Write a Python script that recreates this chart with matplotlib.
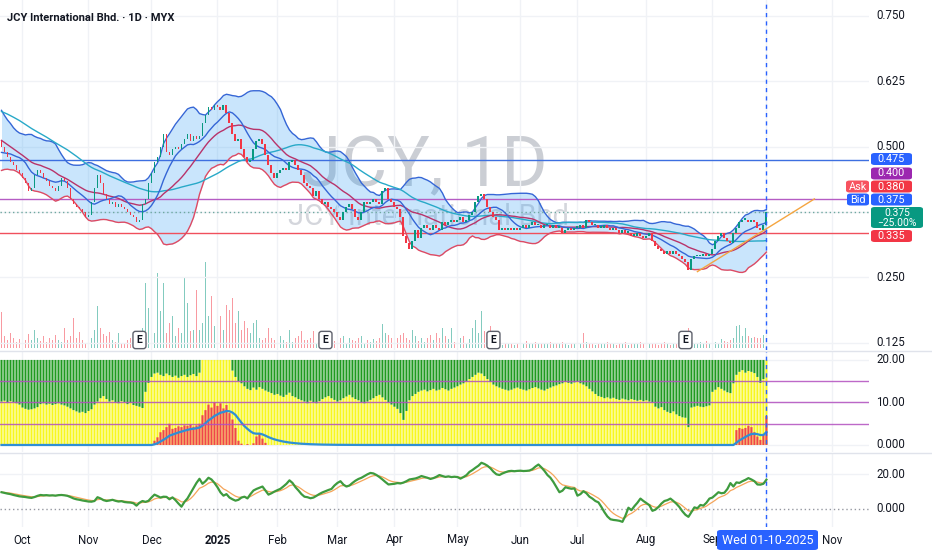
import matplotlib
matplotlib.use("Agg")
import matplotlib.pyplot as plt
import numpy as np
import pandas as pd
from matplotlib.patches import FancyBboxPatch

W, H = 932, 550

# ---- data (one value per daily bar) ----
warmup_close = [
    0.600, 0.610, 0.605, 0.615, 0.620, 0.610, 0.615, 0.625, 0.620, 0.610,
    0.605, 0.615, 0.620, 0.610, 0.600, 0.605, 0.610, 0.600, 0.595, 0.600,
    0.605, 0.600, 0.595, 0.600, 0.590, 0.595, 0.600, 0.590, 0.585, 0.590,
    0.580, 0.570, 0.560, 0.550, 0.550, 0.540, 0.530, 0.520, 0.520, 0.510,
    0.500, 0.500, 0.490, 0.480, 0.490, 0.480, 0.470, 0.480, 0.490, 0.510,
]

close = [
    0.500, 0.490, 0.480, 0.470, 0.465, 0.455, 0.450, 0.440, 0.430, 0.415,
    0.420, 0.445, 0.455, 0.450, 0.440,
    0.435, 0.425, 0.420, 0.415, 0.425, 0.440,
    0.435, 0.420, 0.400, 0.390, 0.385, 0.380, 0.375, 0.365, 0.370,
    0.395, 0.420, 0.445, 0.430, 0.410,
    0.400, 0.390, 0.395, 0.385, 0.390, 0.385, 0.380, 0.375, 0.370, 0.365,
    0.355, 0.360, 0.390, 0.400, 0.430,
    0.450, 0.470, 0.480, 0.500, 0.525,
    0.490, 0.485, 0.495, 0.500, 0.495, 0.505,
    0.515, 0.525, 0.510, 0.520, 0.515, 0.520, 0.545,
    0.560, 0.575, 0.570, 0.580, 0.575, 0.570, 0.580, 0.565,
    0.545, 0.525, 0.510, 0.515,
    0.495, 0.480, 0.470, 0.475, 0.495,
    0.510, 0.515, 0.505,
    0.485, 0.465, 0.450, 0.440, 0.450,
    0.455, 0.460, 0.455, 0.470, 0.475, 0.465,
    0.455, 0.445, 0.430, 0.425, 0.420, 0.405,
    0.415, 0.400, 0.390, 0.395, 0.385, 0.380, 0.375,
    0.365, 0.360, 0.375,
    0.385, 0.390, 0.380, 0.365, 0.360, 0.375,
    0.395, 0.390, 0.395, 0.400, 0.395, 0.390,
    0.415, 0.420, 0.400,
    0.395, 0.385, 0.380, 0.365,
    0.330, 0.315, 0.305, 0.320,
    0.340, 0.325, 0.345, 0.350,
    0.345, 0.340, 0.350, 0.345, 0.340, 0.355,
    0.350, 0.355, 0.360, 0.355, 0.360, 0.365, 0.355, 0.360, 0.370,
    0.375, 0.395, 0.405, 0.410, 0.400,
    0.385, 0.375, 0.365, 0.360,
    0.340, 0.345, 0.340, 0.345, 0.340, 0.345, 0.340, 0.345,
    0.350, 0.345, 0.350, 0.355, 0.350, 0.350, 0.345, 0.350, 0.350, 0.345, 0.350, 0.345, 0.345,
    0.335, 0.340, 0.345, 0.340, 0.345, 0.345, 0.350, 0.345,
    0.360, 0.355,
    0.350, 0.350, 0.345, 0.345, 0.350, 0.345, 0.340, 0.345, 0.340, 0.335, 0.340, 0.335,
    0.335, 0.330, 0.330, 0.335, 0.330, 0.325, 0.330, 0.335,
    0.320, 0.310, 0.305, 0.300,
    0.295, 0.300, 0.295, 0.300, 0.295, 0.290, 0.285, 0.280, 0.265,
    0.285, 0.290, 0.290, 0.290, 0.295, 0.290, 0.295, 0.305,
    0.320, 0.330, 0.335, 0.325, 0.320, 0.315, 0.335,
    0.345, 0.355, 0.360, 0.360, 0.355, 0.360, 0.355, 0.345,
    0.340, 0.350, 0.375,
]

volume = [
    36, 12, 8, 15, 10, 6, 9, 12, 8, 14,
    8, 18, 10, 7, 12,
    6, 10, 8, 13, 8, 6,
    20, 8, 12, 30, 10, 16, 8, 5, 6,
    10, 18, 42, 20, 14,
    12, 16, 8, 6, 15, 5, 4, 8, 10, 6,
    8, 15, 20, 65, 40, 37, 15, 75, 37, 65,
    15, 25, 32, 12, 20, 15, 70, 45, 17, 18,
    58, 18, 25, 86, 32, 52, 22, 25, 32, 18,
    43, 38, 50, 25, 37, 18, 27, 20, 15, 25,
    28, 10, 8, 10, 20, 10, 8, 12, 12, 8,
    6, 18, 6, 10, 12, 17, 8,
    8, 10, 17, 5, 9, 12, 7, 6, 8, 7,
    10, 10, 12, 5, 10, 8, 7, 10, 12, 5,
    8, 6, 9, 7, 10, 24, 15, 13, 10, 7,
    10, 13, 15, 10, 8, 18, 12, 7, 10, 6,
    10, 13, 8, 15, 10, 20, 12, 9, 20, 6,
    17, 10, 12, 5, 9, 20, 28, 15, 37, 17,
    12, 22, 8, 4, 5, 3, 4, 5, 4, 3,
    5, 6, 4, 7, 5, 4, 6, 5, 4, 5,
    5, 6, 4, 5, 4, 6, 5, 3, 5, 4,
    5, 4, 15, 6, 4, 5, 3, 4, 5, 4,
    6, 4, 5, 3, 5, 4, 6, 3, 4, 5,
    4, 6, 5, 3, 4, 5, 4, 3, 5, 6,
    4, 3, 5, 4, 6, 4, 5, 20, 6, 4,
    5, 6, 4, 7, 5, 8, 6, 5, 9, 7,
    6, 8, 10, 22, 23, 12, 20, 12, 10, 11,
    10, 10, 13, 23,
]

# second pane: yellow share (rest up to 20 is green), red bars
pane_yellow = [
    10.2, 10.4, 10.0, 10.3, 10.1, 9.8, 9.5,
    8.8, 8.5, 8.3, 8.4, 8.6, 8.9,
    9.6, 9.8, 9.5, 9.7, 9.4, 9.6, 9.8, 9.5, 9.3, 9.0,
    8.6, 8.2, 7.9, 7.6, 7.8, 7.5, 8.0, 8.4,
    9.5, 10.2, 11.0, 11.5, 10.8, 10.2, 10.5, 10.0, 9.8, 10.3, 10.1, 9.6, 9.9, 9.4, 9.2, 9.0,
    8.7,
    12.5, 14.6,
    16.0, 16.8, 17.0, 16.5, 16.2, 16.8, 16.4, 16.0,
    16.3, 15.8, 16.2, 16.5, 16.0, 16.4, 16.7, 16.2, 17.0,
    20.0, 20.0, 20.0, 20.0, 20.0, 20.0, 20.0, 20.0, 20.0, 20.0,
    17.5, 16.0, 15.0,
    14.5, 13.8, 13.2, 12.9, 13.5, 13.0, 13.6, 13.2, 12.8,
    12.5, 12.2, 11.8, 12.0, 11.6, 11.3, 11.8, 12.3, 11.5, 11.2, 10.8,
    10.5, 10.2, 9.8, 10.4, 10.0, 9.8, 10.3,
    10.8, 11.2, 11.5, 11.0, 10.6, 10.2, 10.5, 11.0, 11.4, 11.8, 11.2, 10.8, 10.5,
    10.0, 9.8, 10.2, 10.6, 11.0, 11.5, 11.8, 11.2, 10.6, 10.0, 9.5, 9.0, 8.5,
    7.5, 5.9, 8.0,
    10.5, 11.5, 12.0, 12.5, 12.8, 13.0, 12.6, 12.9, 13.2, 12.8,
    13.0, 13.4, 13.1, 12.8, 13.2, 13.5, 13.8, 14.2, 14.5, 15.0,
    15.5, 16.0, 16.5, 17.0, 16.8, 16.2, 15.5, 14.8, 14.2, 13.8,
    13.5, 13.2, 13.0, 12.8, 13.0, 13.3, 13.5, 13.2, 13.0, 12.8,
    13.1, 13.4, 13.6, 13.3, 13.0, 12.8, 13.2, 13.5, 13.8, 14.0,
    14.3, 14.5, 14.8, 14.6, 14.4, 14.7, 14.9, 14.5, 14.2, 13.8, 13.2, 12.6, 12.0, 11.5,
    11.3, 11.0, 11.2, 10.9, 11.1, 10.8, 10.6, 10.9, 10.7, 10.5,
    10.8, 10.6, 10.4, 10.6, 10.3, 10.5, 10.2, 10.0,
    9.0, 8.6, 8.9, 8.2, 7.8, 7.5, 7.9, 7.2, 6.8, 6.5, 6.4,
    4.2,
    8.8, 9.0, 9.2, 9.0, 8.9, 9.1, 9.3,
    12.5, 13.0, 13.6, 13.2, 12.8, 12.4, 12.2,
    14.5, 16.5, 17.2, 17.6, 17.0, 17.4, 17.2, 16.9,
    16.0, 14.6, 15.5,
    20.0,
]

pane_red = (
    [0.0] * 51
    + [1.0, 1.8, 3.0, 3.5, 4.2, 5.0, 3.8,
       4.0, 4.4, 4.2, 4.6, 4.5, 4.8, 4.3, 4.6, 5.0,
       7.0, 8.2, 9.5, 8.8, 10.0, 9.2, 9.8, 8.6, 9.4, 7.5,
       6.0, 4.0, 1.0, 0.3, 0.0, 0.2, 0.0, 0.4,
       2.0, 2.8, 1.5, 0.5]
    + [0.0] * 156
    + [3.5, 4.0, 3.8, 4.0, 4.5, 4.2, 3.0, 2.0, 1.2, 2.5, 6.8]
)

osc = [
    9.6, 9.2, 8.8, 8.5, 8.0, 7.6, 7.2, 7.0, 6.8, 6.5, 6.3,
    6.8, 7.5, 8.0, 7.8,
    7.9, 7.7, 7.8, 7.6, 7.9, 8.0, 7.8, 7.5,
    6.8, 6.0, 5.5, 5.2, 4.8, 4.5, 4.2, 4.1, 4.5,
    6.7, 6.0, 5.0,
    4.5, 4.8, 5.2, 4.6, 4.2, 4.4, 3.9,
    3.7, 3.6, 3.2, 1.8,
    3.5, 4.5, 4.0, 4.6,
    6.5, 8.2, 7.4, 6.5,
    7.0, 6.9, 5.5, 6.6,
    5.0, 3.0, 1.2,
    4.0, 6.0,
    9.0, 12.0, 15.0, 17.4,
    14.5, 16.0, 18.0,
    17.0, 15.0, 12.5,
    9.5, 7.6, 8.5, 6.5, 5.5,
    4.7, 5.2, 6.5, 7.0, 6.0,
    8.5, 10.6, 11.5, 12.2,
    12.9, 10.5, 8.2,
    9.0, 10.0, 10.8, 11.6,
    13.0, 14.5, 16.5, 15.0,
    12.5, 10.6, 8.5, 7.0,
    6.7, 6.1, 6.5, 7.5,
    8.6, 9.5, 10.2, 10.9, 11.5,
    13.5, 15.0, 16.0,
    14.0, 12.9, 13.5,
    15.0, 16.3, 17.3, 18.0,
    19.0, 20.0, 20.8, 20.5,
    19.6, 18.4, 17.0, 15.5,
    14.1, 14.3, 14.5,
    14.9, 14.7, 15.2, 16.0,
    17.0, 17.3, 17.6, 18.2,
    19.0, 18.5, 18.0, 17.3,
    17.8, 18.6, 19.6, 19.0,
    18.5, 18.8, 18.4, 18.6,
    18.4, 17.5, 18.4, 19.5,
    21.4, 22.5, 23.8, 25.0, 26.7,
    26.0, 25.0, 23.5,
    21.5, 20.0, 19.6,
    20.5, 21.2, 21.8, 22.0,
    21.8, 22.0, 22.1, 21.9, 22.0, 22.2, 23.0, 24.5,
    25.7, 24.0,
    22.0, 19.6, 18.0, 15.5,
    12.5, 9.6, 10.5,
    12.5, 12.0, 11.6,
    11.8, 7.6, 8.5,
    10.2, 9.0, 7.0,
    5.9, 4.5, 3.7,
    1.0, -2.0, -4.5, -6.1,
    -6.5, -6.7, -7.0, -7.6,
    -4.0, 0.6, -0.8,
    1.5, 3.5, 5.9,
    4.5, 3.3, 2.0,
    -1.2, -0.5, 1.0,
    3.0, 4.5, 5.0, 5.9,
    4.5, 2.9, 1.0,
    -1.5, -3.5, -4.7,
    -2.0, 0.8, 0.3,
    2.2, 1.8, 3.5,
    5.9, 6.5, 8.0,
    9.6, 9.0, 9.3,
    11.5, 14.9, 12.9,
    15.3, 15.0, 16.0, 16.8,
    17.8, 17.0, 16.0,
    14.1, 14.0, 14.5,
    16.9,
]

month_labels = ["Oct", "Nov", "Dec", "2025", "Feb", "Mar", "Apr", "May",
                "Jun", "Jul", "Aug", "Sep", "Nov"]
month_bars = [7, 29, 50, 72, 92, 112, 131, 152, 173, 192, 215, 237, 277]
earnings_bars = [46, 108, 164, 228]
cursor_bar = 255
cursor_label = "Wed 01-10-2025"

level_blue = 0.475
level_purple = 0.400
level_red = 0.335
last_price = 0.375
trend_bars = [232, 271]
trend_prices = [0.261, 0.400]

price_ticks = [0.750, 0.625, 0.500, 0.250, 0.125]
pane2_ticks = [20.0, 10.0, 0.0]
pane2_levels = [15.0, 10.0, 5.0]
pane3_ticks = [20.0, 0.0]

# ---- colours ----
UP = "#089981"
DOWN = "#F23645"
GRID = "#F0F2F6"
TXT = "#131722"


def px_axes(fig, x0, y0, x1, y1, **kw):
    return fig.add_axes([x0 / W, 1 - y1 / H, (x1 - x0) / W, (y1 - y0) / H], **kw)


def clean(ax):
    for s in ax.spines.values():
        s.set_visible(False)
    ax.set_xticks([])
    ax.set_yticks([])


def tag(fig, x0, x1, yc, h, color, text, fs=7.8):
    fig.patches.append(FancyBboxPatch(
        (x0 / W, 1 - (yc + h / 2) / H), (x1 - x0) / W, h / H,
        boxstyle="round,pad=0,rounding_size=0.004", transform=fig.transFigure,
        facecolor=color, edgecolor="none", zorder=10))
    fig.text((x0 + x1) / 2 / W, 1 - yc / H, text, ha="center", va="center",
             color="white", fontsize=fs, zorder=11, linespacing=1.0)


plt.rcParams["font.family"] = ["Roboto", "DejaVu Sans"]

n_warm = len(warmup_close)
full = pd.Series(warmup_close + close, dtype=float)
sma10 = full.rolling(10).mean().to_numpy()[n_warm:]
sma20 = full.rolling(20).mean().to_numpy()[n_warm:]
std20 = full.rolling(20).std(ddof=0).to_numpy()[n_warm:]
sma50 = full.rolling(50).mean().to_numpy()[n_warm:]
upper = sma20 + 2 * std20
lower = sma20 - 2 * std20

closes = np.array(close)
opens = np.r_[warmup_close[-1], closes[:-1]]
xs = np.arange(len(closes))
is_up = closes >= opens

XLIM = (-0.5, 289.2)

fig = plt.figure(figsize=(W / 100, H / 100), dpi=100)
fig.patch.set_facecolor("white")

# ---- volume (bottom layer of main pane) + watermark ----
axv = px_axes(fig, 0, 0, 869, 348)
clean(axv)
axv.set_xlim(*XLIM)
axv.set_ylim(0, 348)
vx = np.arange(len(volume))
vcol = [UP if is_up[i] else DOWN for i in vx]
axv.bar(vx, volume, width=0.55, color=vcol, alpha=0.5, linewidth=0)
axv.text(425 / 869, 1 - 186 / 348, "JCY, 1D", transform=axv.transAxes,
         ha="center", va="baseline", fontsize=51, color="#CBCED4", zorder=0)
axv.text(428 / 869, 1 - 217 / 348, "JCY International Bhd", transform=axv.transAxes,
         ha="center", va="center", fontsize=21, color="#D4D6DC", zorder=0)

# ---- price pane ----
ax = px_axes(fig, 0, 0, 869, 350)
ax.set_facecolor("none")
clean(ax)
ax.set_xlim(*XLIM)
ax.set_ylim(0.111, 0.7806)
for t in [0.750, 0.625, 0.500, 0.375, 0.250, 0.125]:
    ax.axhline(t, color=GRID, lw=1, zorder=0)
for b in month_bars + [cursor_bar]:
    ax.axvline(b, color=GRID, lw=1, zorder=0)

ax.fill_between(xs, lower, upper, color="#2196F3", alpha=0.24, linewidth=0, zorder=1)
ax.plot(xs, upper, color="#3566D6", lw=1.0, zorder=3)
ax.plot(xs, lower, color="#DE4A63", lw=1.0, zorder=3)
ax.plot(xs, sma50, color="#28A9C8", lw=1.0, zorder=3)
ax.plot(xs, sma20, color="#B8336A", lw=1.0, zorder=3)
ax.plot(xs, sma10, color="#3566D6", lw=1.0, zorder=3)

ax.axhline(level_blue, color="#3D6FE0", lw=1.0, zorder=2)
ax.axhline(level_purple, color="#B55CC4", lw=1.0, zorder=2)
ax.axhline(level_red, color="#F0505C", lw=1.0, zorder=2)
ax.axhline(last_price, color="#6FA8A0", lw=1.0, ls=(0, (1, 2)), zorder=2)

body_lo = np.minimum(opens, closes)
body_h = np.maximum(np.abs(closes - opens), 0.003)
ax.bar(xs, body_h, bottom=body_lo, width=0.65,
       color=[UP if u else DOWN for u in is_up], linewidth=0, zorder=5)

ax.plot(trend_bars, trend_prices, color="#F5A540", lw=1.0, zorder=6)

for b in earnings_bars:
    ax.text(b, 10 / 350, "E", transform=ax.get_xaxis_transform(), ha="center",
            va="center", fontsize=7.5, fontweight="bold", color=TXT, zorder=8,
            bbox=dict(boxstyle="round,pad=0.35,rounding_size=0.25", fc="white",
                      ec="#5D606B", lw=1.0))

for t in price_ticks:
    ax.text(1.008, t, f"{t:.3f}", transform=ax.get_yaxis_transform(),
            ha="left", va="center", fontsize=8.3, color=TXT)

ax.text(0.008, 1 - 18 / 350, "JCY International Bhd. · 1D · MYX",
        transform=ax.transAxes, ha="left", va="center", fontsize=8.0,
        fontweight="bold", color=TXT)

# ---- second pane ----
ax2 = px_axes(fig, 0, 351, 869, 452)
clean(ax2)
ax2.set_xlim(*XLIM)
ax2.set_ylim(-1.65, 22.1)
for b in month_bars + [cursor_bar]:
    ax2.axvline(b, color=GRID, lw=1, zorder=0)
for t in pane2_ticks:
    ax2.axhline(t, color=GRID, lw=1, zorder=0)
yel = np.array(pane_yellow)
x2 = np.arange(len(yel))
ax2.bar(x2, yel, width=0.7, color="#F7F71E", linewidth=0, zorder=2, snap=False)
ax2.bar(x2, 20 - yel, bottom=yel, width=0.7, color="#1F9A1F", linewidth=0, zorder=2,
        snap=False)
red = np.array(pane_red)
ax2.bar(np.arange(len(red)), red, width=0.7, color="#F0444C", linewidth=0, zorder=3,
        snap=False)
red_ma = pd.Series(red).ewm(span=12, adjust=False).mean()
ax2.plot(np.arange(len(red)), red_ma, color="#2E8FD6", lw=1.6, zorder=4)
for lv in pane2_levels:
    ax2.axhline(lv, color="#B24FBF", lw=1.0, alpha=0.85, zorder=5)
for t in pane2_ticks:
    ax2.text(1.008, t, f"{t:.2f}" if t else "0.000", transform=ax2.get_yaxis_transform(),
             ha="left", va="center", fontsize=8.3, color=TXT)

# ---- third pane ----
ax3 = px_axes(fig, 0, 454, 869, 527)
clean(ax3)
ax3.set_xlim(*XLIM)
ax3.set_ylim(-10.6, 31.8)
for b in month_bars + [cursor_bar]:
    ax3.axvline(b, color=GRID, lw=1, zorder=0)
ax3.axhline(20, color=GRID, lw=1, zorder=0)
ax3.axhline(0, color="#9598A1", lw=1.0, ls=(0, (1, 2)), zorder=1)
o = pd.Series(osc, dtype=float)
x3 = np.arange(len(o))
ax3.plot(x3, o.ewm(span=6, adjust=False).mean(), color="#F5A55A", lw=0.9, zorder=2)
ax3.plot(x3, o, color="#3E9B3E", lw=1.6, zorder=3)
for t in pane3_ticks:
    ax3.text(1.008, t, f"{t:.2f}" if t else "0.000", transform=ax3.get_yaxis_transform(),
             ha="left", va="center", fontsize=8.3, color=TXT)

# pane separators
for yy in (350.5, 453):
    fig.add_artist(plt.Line2D([0, 1], [1 - yy / H] * 2, color="#E0E3EB", lw=1))

# cursor line through all panes
for a in (ax, ax2, ax3):
    a.axvline(cursor_bar, color="#2962FF", lw=1.0, ls=(0, (3, 3)), zorder=9)

# time axis labels
for b, lab in zip(month_bars, month_labels):
    ax3.text(b, -13 / 73, lab, transform=ax3.get_xaxis_transform(), ha="center",
             va="center", fontsize=8.3, color=TXT,
             fontweight="bold" if lab.isdigit() else "normal")

# right-hand price tags
tag(fig, 871, 912, 159, 12, "#2962FF", f"{level_blue:.3f}")
tag(fig, 871, 912, 173.5, 12, "#9C27B0", f"{level_purple:.3f}")
tag(fig, 846, 869, 186.5, 12, "#F7525F", "Ask")
tag(fig, 871, 912, 186.5, 12, "#F23645", "0.380")
tag(fig, 847, 869, 199.5, 12, "#2962FF", "Bid")
tag(fig, 871, 912, 199.5, 12, "#2962FF", "0.375")
tag(fig, 871, 923, 217.5, 21, UP, f"{last_price:.3f}\n\u221225.00%", fs=7.4)
tag(fig, 871, 912, 236, 12, "#F23645", f"{level_red:.3f}")

# cursor date tag
tag(fig, 717, 818, 540, 20, "#2962FF", cursor_label, fs=9)

fig.savefig("out.png", dpi=100, facecolor="white")
